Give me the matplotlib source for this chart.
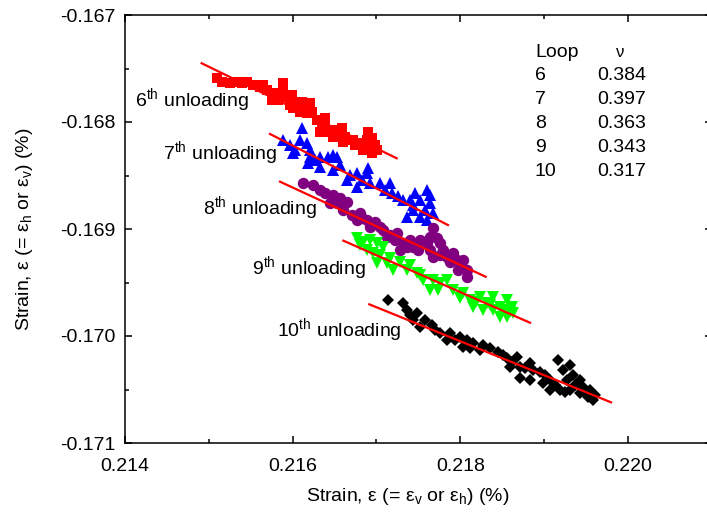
import matplotlib
matplotlib.use("Agg")
import matplotlib.pyplot as plt
from matplotlib.ticker import FormatStrFormatter, MultipleLocator

plt.rcParams["font.family"] = ["Liberation Sans", "DejaVu Sans"]
plt.rcParams["mathtext.fontset"] = "custom"
plt.rcParams["mathtext.rm"] = "Liberation Sans"
plt.rcParams["mathtext.it"] = "Liberation Sans:italic"
plt.rcParams["axes.unicode_minus"] = False

# ---- measured strain data for each unloading loop (%) ----
x6 = [0.215094, 0.215154, 0.215333, 0.215393, 0.215452, 0.215531, 0.215650, 0.215691,
      0.215751, 0.215829, 0.215889, 0.215889, 0.215930, 0.215989, 0.216008, 0.216049,
      0.216109, 0.216128, 0.216208, 0.216228, 0.216288, 0.216347, 0.216387, 0.216327,
      0.216407, 0.216486, 0.216545, 0.216586, 0.216625, 0.216685, 0.216745, 0.216804,
      0.216884, 0.216903, 0.216944, 0.216983, 0.217004, 0.216944, 0.216844, 0.216088,
      0.215810, 0.215253, 0.215611, 0.215751, 0.215969, 0.216168, 0.216387, 0.216486,
      0.216724, 0.216844, 0.216963, 0.216605]
y6 = [-0.167592, -0.167623, -0.167623, -0.167638, -0.167623, -0.167654, -0.167654, -0.167701,
      -0.167764, -0.167794, -0.167638, -0.167701, -0.167764, -0.167748, -0.167872, -0.167810,
      -0.167810, -0.167872, -0.167825, -0.167904, -0.167981, -0.167997, -0.167965, -0.168091,
      -0.168091, -0.168075, -0.168137, -0.168059, -0.168137, -0.168168, -0.168215, -0.168199,
      -0.168168, -0.168091, -0.168152, -0.168215, -0.168262, -0.168293, -0.168231, -0.167904,
      -0.167732, -0.167633, -0.167670, -0.167794, -0.167841, -0.167919, -0.168028, -0.168137,
      -0.168168, -0.168262, -0.168262, -0.168184]

x7 = [0.215889, 0.216109, 0.216088, 0.216168, 0.216029, 0.216208, 0.216327, 0.216486,
      0.216008, 0.216208, 0.216187, 0.216327, 0.216426, 0.216526, 0.216486, 0.216646,
      0.216765, 0.216884, 0.216765, 0.216924, 0.217043, 0.217162, 0.217183, 0.217321,
      0.217461, 0.217600, 0.217440, 0.217520, 0.217640, 0.217679, 0.217362, 0.217520,
      0.217600, 0.217440, 0.216900, 0.215969, 0.216267, 0.216566, 0.216685, 0.216828,
      0.217103, 0.217258, 0.217401, 0.217580, 0.217640]
y7 = [-0.168168, -0.168059, -0.168168, -0.168199, -0.168262, -0.168262, -0.168324, -0.168308,
      -0.168293, -0.168324, -0.168386, -0.168418, -0.168324, -0.168324, -0.168449, -0.168542,
      -0.168479, -0.168479, -0.168605, -0.168573, -0.168573, -0.168573, -0.168666, -0.168729,
      -0.168666, -0.168636, -0.168776, -0.168729, -0.168760, -0.168853, -0.168885, -0.168885,
      -0.168916, -0.168822, -0.168430, -0.168215, -0.168355, -0.168402, -0.168495, -0.168542,
      -0.168636, -0.168692, -0.168729, -0.168822, -0.168682]

x8 = [0.216128, 0.216247, 0.216387, 0.216486, 0.216446, 0.216526, 0.216646, 0.216605,
      0.216705, 0.216804, 0.216765, 0.216884, 0.216924, 0.217043, 0.217082, 0.217242,
      0.217222, 0.217321, 0.217282, 0.217440, 0.217520, 0.217640, 0.217679, 0.217720,
      0.217640, 0.217679, 0.217798, 0.217839, 0.217918, 0.217958, 0.218037, 0.217998,
      0.218078, 0.218078, 0.217600, 0.217759, 0.217123, 0.217362, 0.216327, 0.216566,
      0.216828, 0.216983, 0.217162, 0.217401, 0.217496, 0.217878, 0.217759, 0.217974]
y8 = [-0.168573, -0.168589, -0.168666, -0.168682, -0.168760, -0.168760, -0.168745, -0.168822,
      -0.168869, -0.168853, -0.168916, -0.168916, -0.168978, -0.168978, -0.169009, -0.169040,
      -0.169103, -0.169134, -0.169196, -0.169165, -0.169103, -0.169072, -0.168993, -0.169087,
      -0.169196, -0.169259, -0.169196, -0.169259, -0.169227, -0.169290, -0.169290, -0.169352,
      -0.169383, -0.169446, -0.169134, -0.169134, -0.169072, -0.169165, -0.168636, -0.168710,
      -0.168897, -0.168935, -0.169056, -0.169103, -0.169196, -0.169308, -0.169243, -0.169383]

x9 = [0.216765, 0.216844, 0.216924, 0.217004, 0.216884, 0.216963, 0.217082, 0.217004,
      0.217123, 0.217202, 0.217282, 0.217362, 0.217481, 0.217560, 0.217640, 0.217679,
      0.217759, 0.217839, 0.217918, 0.218037, 0.218117, 0.218236, 0.218316, 0.218395,
      0.218395, 0.218475, 0.218555, 0.218615, 0.218555, 0.218634, 0.218475, 0.218276,
      0.218156, 0.218514, 0.216804, 0.217043, 0.217162, 0.217401, 0.217520, 0.217735,
      0.217998, 0.218189, 0.218356, 0.218594]
y9 = [-0.169087, -0.169119, -0.169103, -0.169134, -0.169196, -0.169227, -0.169165, -0.169321,
      -0.169321, -0.169383, -0.169306, -0.169383, -0.169414, -0.169477, -0.169570, -0.169477,
      -0.169508, -0.169477, -0.169570, -0.169601, -0.169664, -0.169633, -0.169694, -0.169633,
      -0.169757, -0.169726, -0.169664, -0.169726, -0.169820, -0.169788, -0.169820, -0.169757,
      -0.169726, -0.169757, -0.169150, -0.169243, -0.169271, -0.169336, -0.169430, -0.169570,
      -0.169645, -0.169682, -0.169710, -0.169776]

x10 = [0.217142, 0.217321, 0.217362, 0.217481, 0.217440, 0.217520, 0.217660, 0.217759,
       0.217878, 0.217839, 0.217998, 0.218037, 0.218156, 0.218276, 0.218236, 0.218455,
       0.218555, 0.218674, 0.218714, 0.218833, 0.218872, 0.218952, 0.218714, 0.218833,
       0.218992, 0.219072, 0.219171, 0.219230, 0.219310, 0.219271, 0.219350, 0.219430,
       0.219469, 0.219549, 0.219529, 0.219588, 0.219191, 0.219310, 0.219430, 0.219072,
       0.218594, 0.218078, 0.217401, 0.217580, 0.217699, 0.217938, 0.218117, 0.218356,
       0.218511, 0.218618, 0.218773, 0.219012, 0.219131, 0.219370, 0.219489, 0.219609,
       0.219251]
y10 = [-0.169664, -0.169694, -0.169757, -0.169788, -0.169850, -0.169913, -0.169897, -0.169975,
       -0.169975, -0.170037, -0.170007, -0.170100, -0.170068, -0.170084, -0.170131, -0.170147,
       -0.170208, -0.170193, -0.170287, -0.170255, -0.170318, -0.170334, -0.170395, -0.170411,
       -0.170442, -0.170411, -0.170224, -0.170318, -0.170271, -0.170411, -0.170364, -0.170411,
       -0.170474, -0.170505, -0.170567, -0.170598, -0.170505, -0.170505, -0.170536, -0.170505,
       -0.170287, -0.170037, -0.169804, -0.169850, -0.169944, -0.170037, -0.170112, -0.170112,
       -0.170178, -0.170243, -0.170299, -0.170364, -0.170458, -0.170458, -0.170523, -0.170551,
       -0.170523]

# linear fits (start, end) for each loop
fit_x = [[0.214915, 0.217242], [0.215730, 0.217854], [0.215850, 0.218304],
         [0.216605, 0.218833], [0.216915, 0.219800]]
fit_y = [[-0.167451, -0.168339], [-0.168112, -0.168963], [-0.168558, -0.169446],
         [-0.169109, -0.169876], [-0.169704, -0.170620]]

loops = ["6", "7", "8", "9", "10"]
poisson = ["0.384", "0.397", "0.363", "0.343", "0.317"]
ordinals = [r"6$^{\mathregular{th}}$ unloading", r"7$^{\mathregular{th}}$ unloading",
            r"8$^{\mathregular{th}}$ unloading", r"9$^{\mathregular{th}}$ unloading",
            r"10$^{\mathregular{th}}$ unloading"]
label_x = [0.214119, 0.214453, 0.214931, 0.215516, 0.215814]
label_y = [-0.167794, -0.168290, -0.168804, -0.169364, -0.169944]

fig = plt.figure(figsize=(7.07, 5.19), dpi=100)
ax = fig.add_axes([125 / 707, 1 - 443 / 519, 586.6 / 707, 428 / 519])

series = [(x6, y6, "s", "#ff0000", 7.8), (x7, y7, "^", "#0000ff", 9.2),
          (x8, y8, "o", "#800080", 8.2), (x9, y9, "v", "#00ff00", 9.2),
          (x10, y10, "D", "#000000", 6.6)]
for xs, ys, mk, col, ms in series:
    ax.plot(xs, ys, linestyle="none", marker=mk, color=col, markersize=ms,
            markeredgewidth=0, zorder=2)

for fx, fy in zip(fit_x, fit_y):
    ax.plot(fx, fy, color="#ff0000", linewidth=1.6, zorder=3)

for t, tx, ty in zip(ordinals, label_x, label_y):
    ax.text(tx, ty, t, fontsize=14, ha="left", va="center", zorder=4)

ax.set_xlim(0.214, 0.221)
ax.set_ylim(-0.171, -0.167)
ax.xaxis.set_major_locator(MultipleLocator(0.002))
ax.xaxis.set_minor_locator(MultipleLocator(0.001))
ax.yaxis.set_major_locator(MultipleLocator(0.001))
ax.yaxis.set_minor_locator(MultipleLocator(0.0005))
ax.xaxis.set_major_formatter(FormatStrFormatter("%.3f"))
ax.yaxis.set_major_formatter(FormatStrFormatter("%.3f"))
ax.tick_params(which="both", direction="in", top=True, right=True, width=1.1,
               labelsize=14)
ax.tick_params(which="major", length=5)
ax.tick_params(which="minor", length=3)
ax.tick_params(axis="x", which="major", pad=10.5)
ax.tick_params(axis="y", which="major", pad=7)
for sp in ax.spines.values():
    sp.set_linewidth(1.1)

ax.set_xlabel(r"Strain, ε (= ε$_\mathregular{v}$ or ε$_\mathregular{h}$) (%)", fontsize=14)
ax.set_ylabel(r"Strain, ε (= ε$_\mathregular{h}$ or ε$_\mathregular{v}$) (%)", fontsize=14)
ax.xaxis.set_label_coords((408 - 125) / 586.6, -(486 - 443) / 428)
ax.yaxis.set_label_coords(-(125 - 35) / 586.6, 0.5)

# Poisson's ratio table
fig.text(535 / 707, 1 - 52.5 / 519, "Loop", fontsize=14, ha="left", va="center")
fig.text(620 / 707, 1 - 52.5 / 519, "ν", fontsize=12, ha="center", va="center")
for i, (lp, nu) in enumerate(zip(loops, poisson)):
    yy = 1 - (75 + 24.2 * i) / 519
    fig.text(535 / 707, yy, lp, fontsize=14, ha="left", va="center")
    fig.text(597 / 707, yy, nu, fontsize=14, ha="left", va="center")

fig.savefig("out.png", dpi=100)
